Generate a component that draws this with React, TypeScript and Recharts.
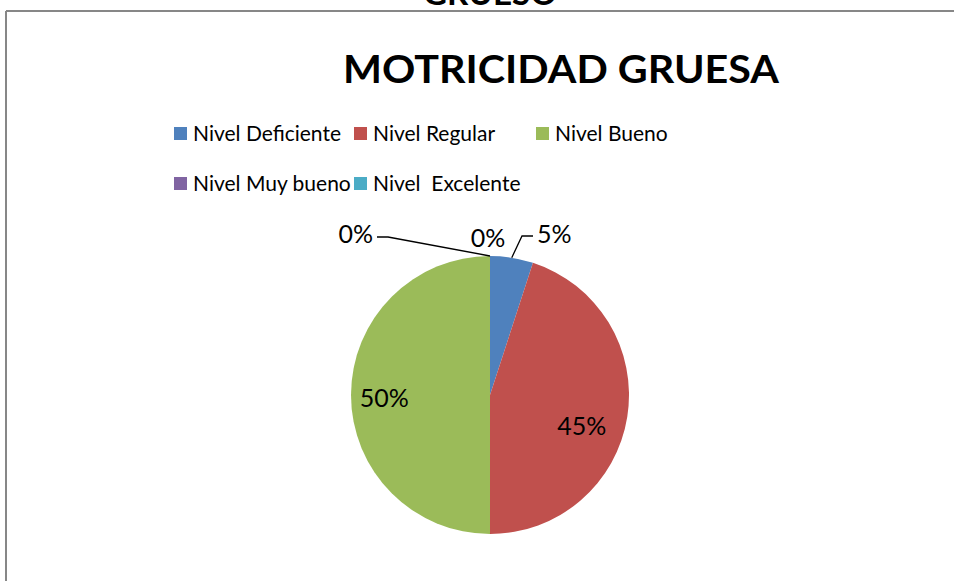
import React from 'react';
import { PieChart, Pie, Cell, Legend, Customized } from 'recharts';

const categories = ['Nivel Deficiente', 'Nivel Regular', 'Nivel Bueno', 'Nivel Muy bueno', 'Nivel  Excelente'];
const values = [1, 9, 10, 0, 0];
const colors = ['#4F81BD', '#C0504D', '#9BBB59', '#8064A2', '#4BACC6'];
const title = 'MOTRICIDAD GRUESA';
const clippedTitle = 'GRUESO';

const data = categories.map((name, i) => ({ name, value: values[i] }));

const FONT = 'Lato, Carlito, Calibri, sans-serif';
const W = 954;
const H = 581;
const RAD = Math.PI / 180;

const legendCols = [0, 180, 362];

const renderLegend = () => (
  <div style={{ position: 'relative', width: 600, height: 80, fontFamily: FONT, fontSize: 21, color: '#000' }}>
    {data.map((d, i) => {
      const row = i < 3 ? 0 : 1;
      const col = i < 3 ? i : i - 3;
      return (
        <div
          key={d.name}
          style={{
            position: 'absolute',
            left: legendCols[col],
            top: row * 50,
            display: 'flex',
            alignItems: 'center',
            whiteSpace: 'pre',
            lineHeight: '26px',
            height: 26,
          }}
        >
          <span style={{ width: 13, height: 13, background: colors[i], marginRight: 6, display: 'inline-block' }} />
          {d.name}
        </div>
      );
    })}
  </div>
);

const renderLabel = (props: any) => {
  const { cx, cy, midAngle, outerRadius, percent, index } = props;
  const txt = `${Math.round((percent || 0) * 100)}%`;
  const R = outerRadius;
  const common = { fontFamily: FONT, fontSize: 25, fill: '#000', dominantBaseline: 'central' as const };
  if (index === 0) {
    const ex = cx + R * Math.cos(-midAngle * RAD);
    const ey = cy + R * Math.sin(-midAngle * RAD);
    return (
      <g key={`l${index}`}>
        <polyline points={`${ex},${ey} ${cx + 32},${cy - R - 20} ${cx + 43},${cy - R - 20}`} fill="none" stroke="#000" strokeWidth={1.3} />
        <text x={cx + 47} y={cy - R - 23} textAnchor="start" {...common}>{txt}</text>
      </g>
    );
  }
  if (index === 3) {
    const ex = cx + R * Math.cos(-midAngle * RAD);
    const ey = cy + R * Math.sin(-midAngle * RAD);
    return (
      <g key={`l${index}`}>
        <polyline points={`${ex},${ey} ${cx - 102},${cy - R - 19} ${cx - 113},${cy - R - 19}`} fill="none" stroke="#000" strokeWidth={1.3} />
        <text x={cx - 117} y={cy - R - 23} textAnchor="end" {...common}>{txt}</text>
      </g>
    );
  }
  if (index === 4) {
    return (
      <text key={`l${index}`} x={cx - 2} y={cy - R - 19} textAnchor="middle" {...common}>{txt}</text>
    );
  }
  // inside labels
  const angle = index === 1 ? midAngle - 9 : midAngle;
  const r = index === 1 ? 0.695 * R : 0.76 * R;
  const x = cx + r * Math.cos(-angle * RAD);
  const y = cy + r * Math.sin(-angle * RAD) + (index === 2 ? 2 : 0);
  return (
    <text key={`l${index}`} x={x} y={y} textAnchor="middle" {...common}>{txt}</text>
  );
};

const Decor = () => (
  <g>
    <line x1={6} y1={11} x2={W} y2={11} stroke="#878787" strokeWidth={2} />
    <line x1={6} y1={11} x2={6} y2={H} stroke="#878787" strokeWidth={2} />
    <text x={490} y={5} textAnchor="middle" fontFamily={FONT} fontWeight={700} fontSize={33} textLength={134} lengthAdjust="spacingAndGlyphs" fill="#000">{clippedTitle}</text>
    <text x={561} y={83} textAnchor="middle" fontFamily={FONT} fontWeight={700} fontSize={39} textLength={436} lengthAdjust="spacingAndGlyphs" fill="#000">{title}</text>
  </g>
);

export default function App() {
  return (
    <div style={{ position: 'absolute', left: 0, top: 0, width: W, height: H, background: '#fff', overflow: 'hidden' }}>
      <PieChart width={W} height={H} margin={{ top: 0, right: 0, bottom: 0, left: 0 }}>
        <Customized component={Decor} />
        <Legend content={renderLegend} wrapperStyle={{ position: 'absolute', left: 174, top: 120, width: 600, height: 80 }} />
        <Pie
          data={data}
          dataKey="value"
          nameKey="name"
          cx={490}
          cy={395}
          outerRadius={139}
          startAngle={90}
          endAngle={-270}
          stroke="none"
          label={renderLabel}
          labelLine={false}
          isAnimationActive={false}
        >
          {data.map((d, i) => (
            <Cell key={d.name} fill={colors[i]} />
          ))}
        </Pie>
      </PieChart>
    </div>
  );
}
